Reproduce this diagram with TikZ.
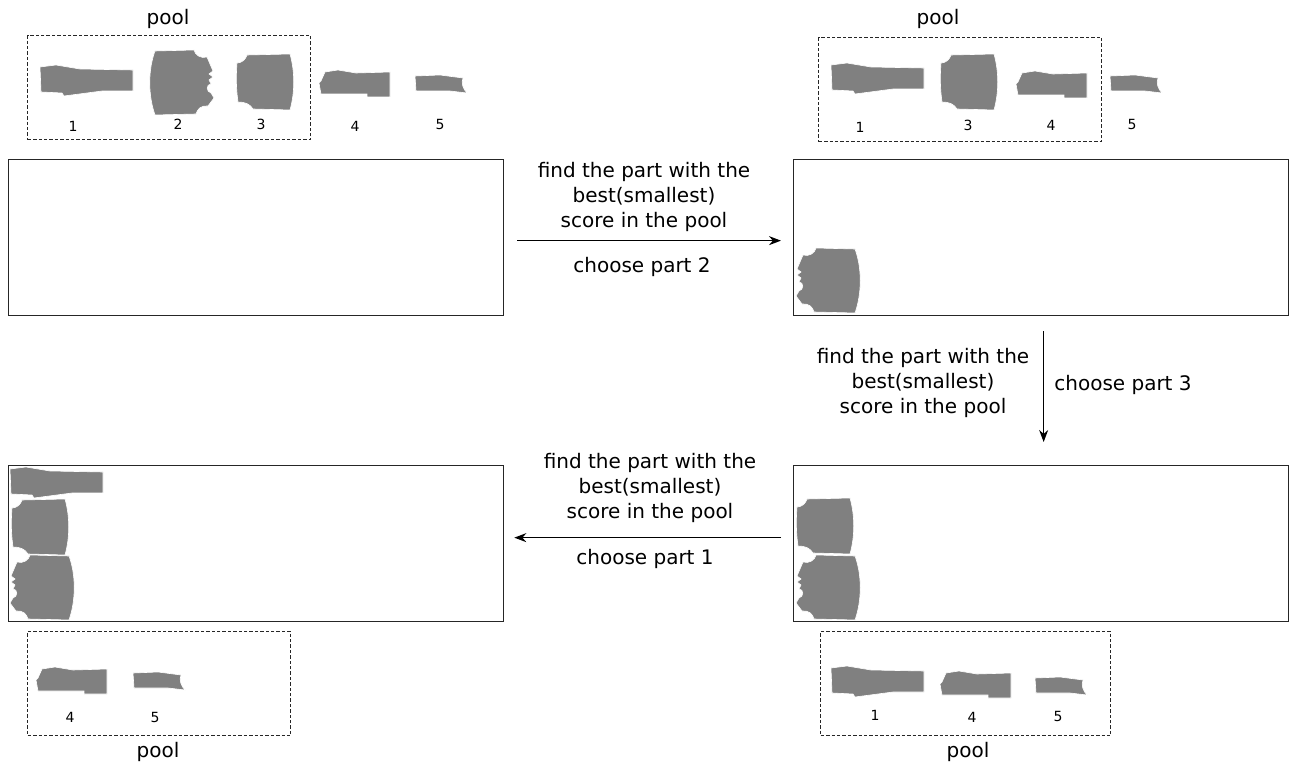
\documentclass[tikz,border=0pt]{standalone}
\usepackage{fontspec}
\setmainfont{DejaVu Sans}
\usetikzlibrary{arrows.meta,positioning,calc}
\definecolor{partgray}{HTML}{808080}

% garment pieces, local pixel units, origin at the top left corner
\tikzset{
    piece/.style={fill=partgray,draw=white,line width=0.3pt},
    part1/.pic={\path[piece] (0,2) -- (16,0) -- (40,4) -- (93,5) -- (93,26) -- (62,26)
        -- (24,31) -- (22,28) -- (1,27) -- cycle;},
    part2/.pic={\path[piece] (5,1) -- (44,0) .. controls (45,5) and (51,9) .. (57,7)
        -- (63,21) -- (59,24) -- (63,27) -- (59,30) -- (61,34)
        .. controls (56,34) and (56,42) .. (61,43) -- (64,48) -- (58,56)
        .. controls (52,55) and (47,59) .. (46,64) -- (5,65)
        .. controls (-2,45) and (-2,20) .. cycle;},
    part3/.pic={\path[piece] (2,11) .. controls (7,11) and (11,7) .. (12,3) -- (55,2)
        .. controls (60,20) and (60,40) .. (55,58) -- (18,57)
        .. controls (15,52) and (10,50) .. (3,50)
        .. controls (1,35) and (1,25) .. cycle;},
    part4/.pic={\path[piece] (7,2) -- (20,0) -- (38,3) -- (72,2) -- (72,27) -- (49,27)
        -- (49,24) -- (3,24) -- (1,13) -- (3,11) -- cycle;},
    part5/.pic={\path[piece] (0,1) -- (25,0) -- (48,3) .. controls (46,8) and (48,14) .. (52,18)
        -- (35,16) -- (1,16) -- cycle;}
}

\begin{document}
\begin{tikzpicture}[x=0.5pt,y=-0.5pt,
    myarrow/.style={-{Stealth[length=6pt,width=4.5pt]},line width=0.65pt},
    sheet/.style={draw=black!85,line width=0.65pt,minimum width=247.5pt,minimum height=78pt,inner sep=0pt},
    poolbox/.style={draw=black!85,line width=0.7pt,dash pattern=on 1.7pt off 1pt,minimum height=52pt,inner sep=0pt},
    note/.style={align=center,font=\fontsize{10}{12.5}\selectfont},
    num/.style={font=\fontsize{7}{8}\selectfont}]
    \useasboundingbox (0,0) rectangle (1291,764);

    % the four sheets
    \node[sheet,anchor=north west] (sheetA) at (8,159) {};
    \node[sheet,anchor=north west] (sheetB) at (793,159) {};
    \node[sheet,anchor=north west] (sheetC) at (793,465) {};
    \node[sheet,anchor=north west] (sheetD) at (8,465) {};

    % the pools
    \node[poolbox,minimum width=141.5pt,anchor=north west] (poolA) at (27,35) {};
    \node[poolbox,minimum width=141.5pt,anchor=north west] (poolB) at (818,37) {};
    \node[poolbox,minimum width=145pt,anchor=north west] (poolC) at (820,631) {};
    \node[poolbox,minimum width=131.5pt,anchor=north west] (poolD) at (27,631) {};
    \node[note] (poolA-t) at (168,19) {pool};
    \node[note] (poolB-t) at (938,19) {pool};
    \node[note] (poolC-t) at (968,752) {pool};
    \node[note] (poolD-t) at (158,752) {pool};

    % pieces waiting at the top left
    \pic at (40,65) {part1};
    \pic at (150,50) {part2};
    \pic at (235,52) {part3};
    \pic at (318,70) {part4};
    \pic at (415,75) {part5};
    \node[num] (a1) at (73,126) {1};
    \node[num] (a2) at (178,124) {2};
    \node[num] (a3) at (261,124) {3};
    \node[num] (a4) at (355,126) {4};
    \node[num] (a5) at (440,125) {5};

    % pieces waiting at the top right
    \pic at (831,63) {part1};
    \pic at (939,52) {part3};
    \pic at (1015,71) {part4};
    \pic at (1110,75) {part5};
    \node[num] (b1) at (860,127) {1};
    \node[num] (b3) at (968,125) {3};
    \node[num] (b4) at (1051,125) {4};
    \node[num] (b5) at (1132,125) {5};

    % pieces waiting at the bottom
    \pic at (831,666) {part1};
    \pic at (939,671) {part4};
    \pic at (1035,677) {part5};
    \node[num] (c1) at (875,715) {1};
    \node[num] (c4) at (972,717) {4};
    \node[num] (c5) at (1058,716) {5};
    \pic at (35,667) {part4};
    \pic at (133,672) {part5};
    \node[num] (d4) at (70,717) {4};
    \node[num] (d5) at (155,717) {5};

    % placed pieces
    \pic[xscale=-1] at (860,248) {part2};
    \pic at (795,496) {part3};
    \pic[xscale=-1] at (860,555) {part2};
    \pic at (10,467) {part1};
    \pic at (10,497) {part3};
    \pic[xscale=-1] at (74,555) {part2};

    % steps
    \draw[myarrow] ([shift={(13,3)}]sheetA.east) -- ([shift={(-12,3)}]sheetB.west);
    \node[note] at (644,197) {find the part with the\\best(smallest)\\score in the pool};
    \node[note] at (642,267) {choose part 2};

    \draw[myarrow] ([shift={(2.5,15)}]sheetB.south) -- ([shift={(2.5,-23)}]sheetC.north);
    \node[note] at (923,383) {find the part with the\\best(smallest)\\score in the pool};
    \node[note] at (1123,385) {choose part 3};

    \draw[myarrow] ([shift={(-12,-6)}]sheetC.west) -- ([shift={(10,-6)}]sheetD.east);
    \node[note] at (650,488) {find the part with the\\best(smallest)\\score in the pool};
    \node[note] at (645,559) {choose part 1};
\end{tikzpicture}
\end{document}
